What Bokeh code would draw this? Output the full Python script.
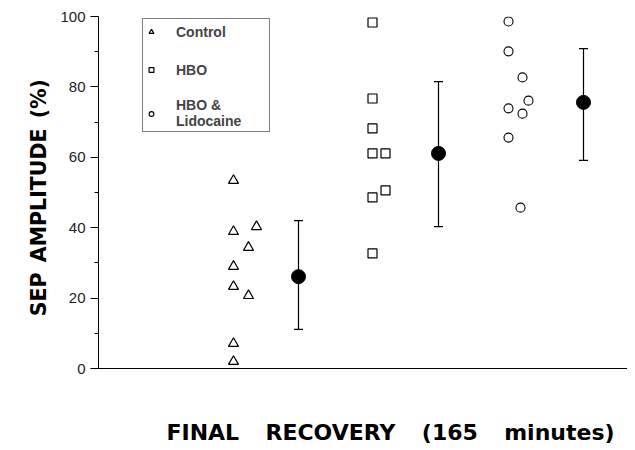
from bokeh.plotting import figure
from bokeh.models import (ColumnDataSource, Whisker, TeeHead, FixedTicker, Legend,
                          LegendItem, Range1d)
from bokeh.embed import file_html
from bokeh.resources import INLINE

# ---- data ----
ctrl_x = [1.35, 1.35, 1.58, 1.50, 1.35, 1.35, 1.50, 1.35, 1.35]
ctrl_y = [53.4, 38.9, 40.3, 34.4, 29.0, 23.3, 20.7, 7.1, 2.0]
hbo_x = [2.74, 2.74, 2.74, 2.74, 2.87, 2.74, 2.87, 2.74]
hbo_y = [98.3, 76.7, 68.2, 61.1, 61.1, 48.6, 50.6, 32.7]
lido_x = [4.10, 4.10, 4.24, 4.30, 4.10, 4.24, 4.10, 4.22]
lido_y = [98.6, 90.1, 82.7, 76.1, 73.9, 72.4, 65.6, 45.7]
mean_x = [2.00, 3.40, 4.85]
mean_y = [26.1, 61.1, 75.6]
upper_y = [42.0, 81.5, 90.9]
lower_y = [11.1, 40.3, 59.1]
y_ticks = [0, 20, 40, 60, 80, 100]
y_minor = [10, 30, 50, 70, 90]
legend_labels = ["Control", "HBO", "HBO &\nLidocaine"]
x_title = "\u2003\u2003\u2002FINAL\u2003\u2009RECOVERY\u2003\u2009(165\u2003\u2009minutes)"
y_title = "SEP\u2002AMPLITUDE\u2002(%)\u2002"

FONT = "Liberation Sans"
TFONT = "DejaVu Sans"

p = figure(width=627, height=450, output_backend="svg", toolbar_location=None,
           x_range=Range1d(0, 5.29), y_range=Range1d(0, 100),
           min_border_left=98, min_border_right=0, min_border_top=16, min_border_bottom=82)
p.outline_line_color = None
p.grid.visible = False
p.background_fill_color = "white"

# y axis
p.yaxis.ticker = FixedTicker(ticks=y_ticks, minor_ticks=y_minor)
p.yaxis.major_tick_out = 8
p.yaxis.major_tick_in = 0
p.yaxis.minor_tick_out = 4
p.yaxis.minor_tick_in = 0
p.yaxis.axis_line_color = "black"
p.yaxis.major_tick_line_color = "black"
p.yaxis.minor_tick_line_color = "black"
p.yaxis.major_label_text_font = FONT
p.yaxis.major_label_text_font_size = "15px"
p.yaxis.major_label_text_color = "#222222"
p.yaxis.major_label_standoff = 5
p.yaxis.axis_label = y_title
p.yaxis.axis_label_text_font = TFONT
p.yaxis.axis_label_text_font_style = "bold"
p.yaxis.axis_label_text_font_size = "20.5px"
p.yaxis.axis_label_text_color = "black"
p.yaxis.axis_label_standoff = 6

# x axis: plain line with the title below it
p.xaxis.ticker = FixedTicker(ticks=[], minor_ticks=[])
p.xaxis.major_tick_line_color = None
p.xaxis.minor_tick_line_color = None
p.xaxis.axis_line_color = "black"
p.xaxis.axis_label = x_title
p.xaxis.axis_label_standoff = 51
p.xaxis.axis_label_text_font = TFONT
p.xaxis.axis_label_text_font_style = "bold"
p.xaxis.axis_label_text_font_size = "22px"
p.xaxis.axis_label_text_color = "black"

# points
r_ctrl = p.scatter(ctrl_x, ctrl_y, marker="triangle", size=10, fill_color="white",
                   line_color="black", line_width=1.2)
r_hbo = p.scatter(hbo_x, hbo_y, marker="square", size=9, fill_color="white",
                  line_color="black", line_width=1.2)
r_lido = p.scatter(lido_x, lido_y, marker="circle", size=9, fill_color="white",
                   line_color="black", line_width=1.1)

# means with error bars
src = ColumnDataSource(dict(x=mean_x, y=mean_y, up=upper_y, lo=lower_y))
wh = Whisker(base="x", upper="up", lower="lo", source=src, line_color="black", line_width=1.2,
             upper_head=TeeHead(size=9, line_color="black", line_width=1.2),
             lower_head=TeeHead(size=9, line_color="black", line_width=1.2))
p.add_layout(wh)
p.scatter("x", "y", source=src, marker="circle", size=14, fill_color="black", line_color="black")

# legend
legend = Legend(items=[LegendItem(label=legend_labels[0], renderers=[r_ctrl]),
                       LegendItem(label=legend_labels[1], renderers=[r_hbo]),
                       LegendItem(label=legend_labels[2], renderers=[r_lido])],
                location=(44, 236))
legend.border_line_color = "black"
legend.border_line_width = 1
legend.background_fill_color = "white"
legend.background_fill_alpha = 1
legend.padding = 2
legend.margin = 0
legend.spacing = 17
legend.glyph_width = 12
legend.glyph_height = 21
legend.label_height = 21
legend.label_width = 91
legend.label_standoff = 19
legend.label_text_font = FONT
legend.label_text_font_style = "bold"
legend.label_text_font_size = "14px"
p.add_layout(legend)

open("out.html", "w").write(file_html(p, INLINE))
